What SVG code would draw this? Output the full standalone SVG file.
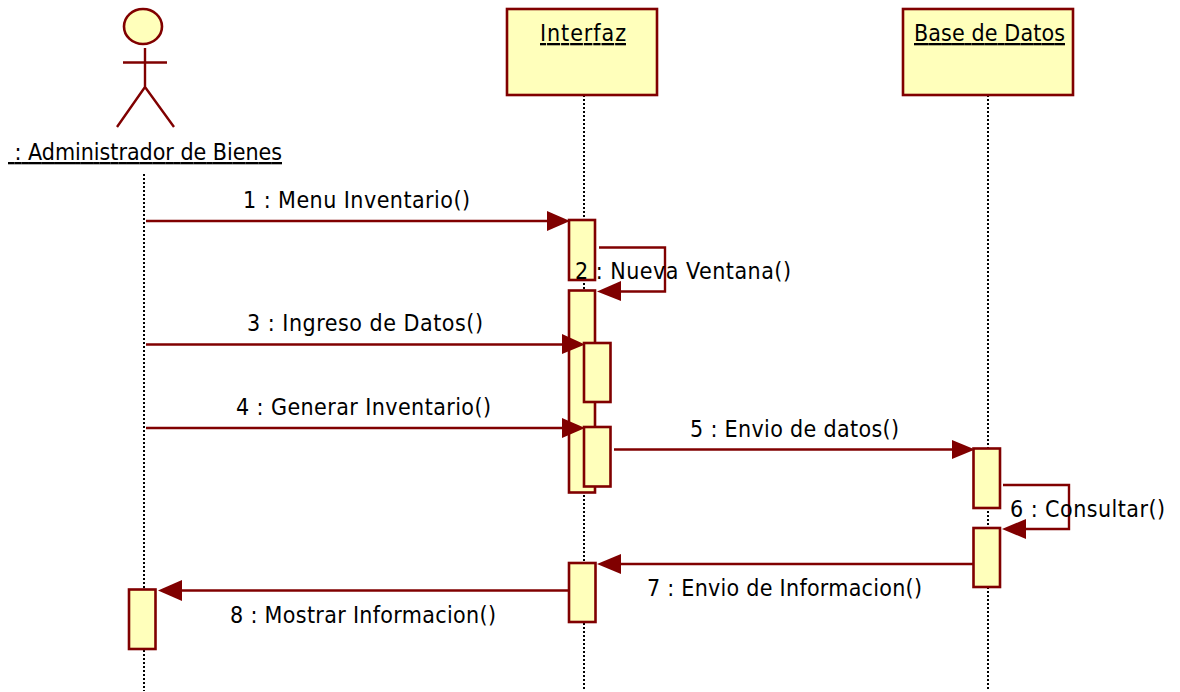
<svg xmlns="http://www.w3.org/2000/svg" width="1180" height="692" viewBox="0 0 1180 692">
<style>
.b{fill:#ffffbb;stroke:#800000;stroke-width:2.6}
.l{fill:none;stroke:#800000;stroke-width:2.4}
.life{fill:none;stroke:#000;stroke-width:2;stroke-dasharray:2 2}
.ah{fill:#800000;stroke:none}
text{font-family:"DejaVu Sans Condensed","DejaVu Sans",sans-serif;font-stretch:condensed;font-size:23px;fill:#000}
.u{text-decoration:underline}
</style>
<rect width="1180" height="692" fill="#fff"/>
<g id="lifelines">
<path class="life" d="M144 174V691"/>
<path class="life" d="M584 95V691"/>
<path class="life" d="M988 95V691"/>
</g>
<g id="actor-admin">
<ellipse class="b" cx="143" cy="26.500" rx="19" ry="17.500"/>
<path class="l" d="M145 48V87M123 62.500H167M145 87L117 127M145 87L174 127"/>
<text class="u" x="8" y="160" textLength="274">&#160;: Administrador de Bienes</text>
</g>
<g id="obj-interfaz">
<rect class="b" x="507" y="9" width="150" height="86"/>
<text class="u" x="540" y="41" textLength="86">Interfaz</text>
</g>
<g id="obj-bd">
<rect class="b" x="903" y="9" width="170" height="86"/>
<text class="u" x="914" y="41" textLength="151">Base de Datos</text>
</g>
<g id="activations">
<rect class="b" x="569" y="220" width="26" height="60"/>
<rect class="b" x="569" y="290.500" width="26" height="202"/>
<rect class="b" x="584" y="343" width="26.500" height="59"/>
<rect class="b" x="584" y="427" width="26.500" height="59.500"/>
<rect class="b" x="973.500" y="448.500" width="26.500" height="59.500"/>
<rect class="b" x="973.500" y="528" width="26.500" height="59"/>
<rect class="b" x="569" y="563" width="26.500" height="59"/>
<rect class="b" x="129" y="589.500" width="26.500" height="59.500"/>
</g>
<g id="connectors">
<path class="l" d="M146 221H550"/>
<polygon class="ah" points="547,211 570,221 547,231"/>
<path class="l" d="M599 247.500H665V291.500H618"/>
<polygon class="ah" points="621,281 597,291.500 621,301"/>
<path class="l" d="M146 344.500H565"/>
<polygon class="ah" points="562,334 585,344.500 562,354"/>
<path class="l" d="M146 428H565"/>
<polygon class="ah" points="562,418 585,428 562,438"/>
<path class="l" d="M614 449.500H955"/>
<polygon class="ah" points="952,440 975,449.500 952,459"/>
<path class="l" d="M1003 485H1069V529H1022"/>
<polygon class="ah" points="1026,519 1002,529 1026,539"/>
<path class="l" d="M974 564H618"/>
<polygon class="ah" points="621,554 597,564 621,574"/>
<path class="l" d="M569 590.500H178"/>
<polygon class="ah" points="182,580 158,590.500 182,601"/>
</g>
<g id="labels">
<text x="243" y="208" textLength="227">1 : Menu Inventario()</text>
<text x="575" y="279" textLength="216">2 : Nueva Ventana()</text>
<text x="247" y="331" textLength="236">3 : Ingreso de Datos()</text>
<text x="236" y="415" textLength="255">4 : Generar Inventario()</text>
<text x="690" y="437" textLength="209">5 : Envio de datos()</text>
<text x="1010" y="517" textLength="155">6 : Consultar()</text>
<text x="647" y="596" textLength="275">7 : Envio de Informacion()</text>
<text x="230" y="623" textLength="266">8 : Mostrar Informacion()</text>
</g>
</svg>
